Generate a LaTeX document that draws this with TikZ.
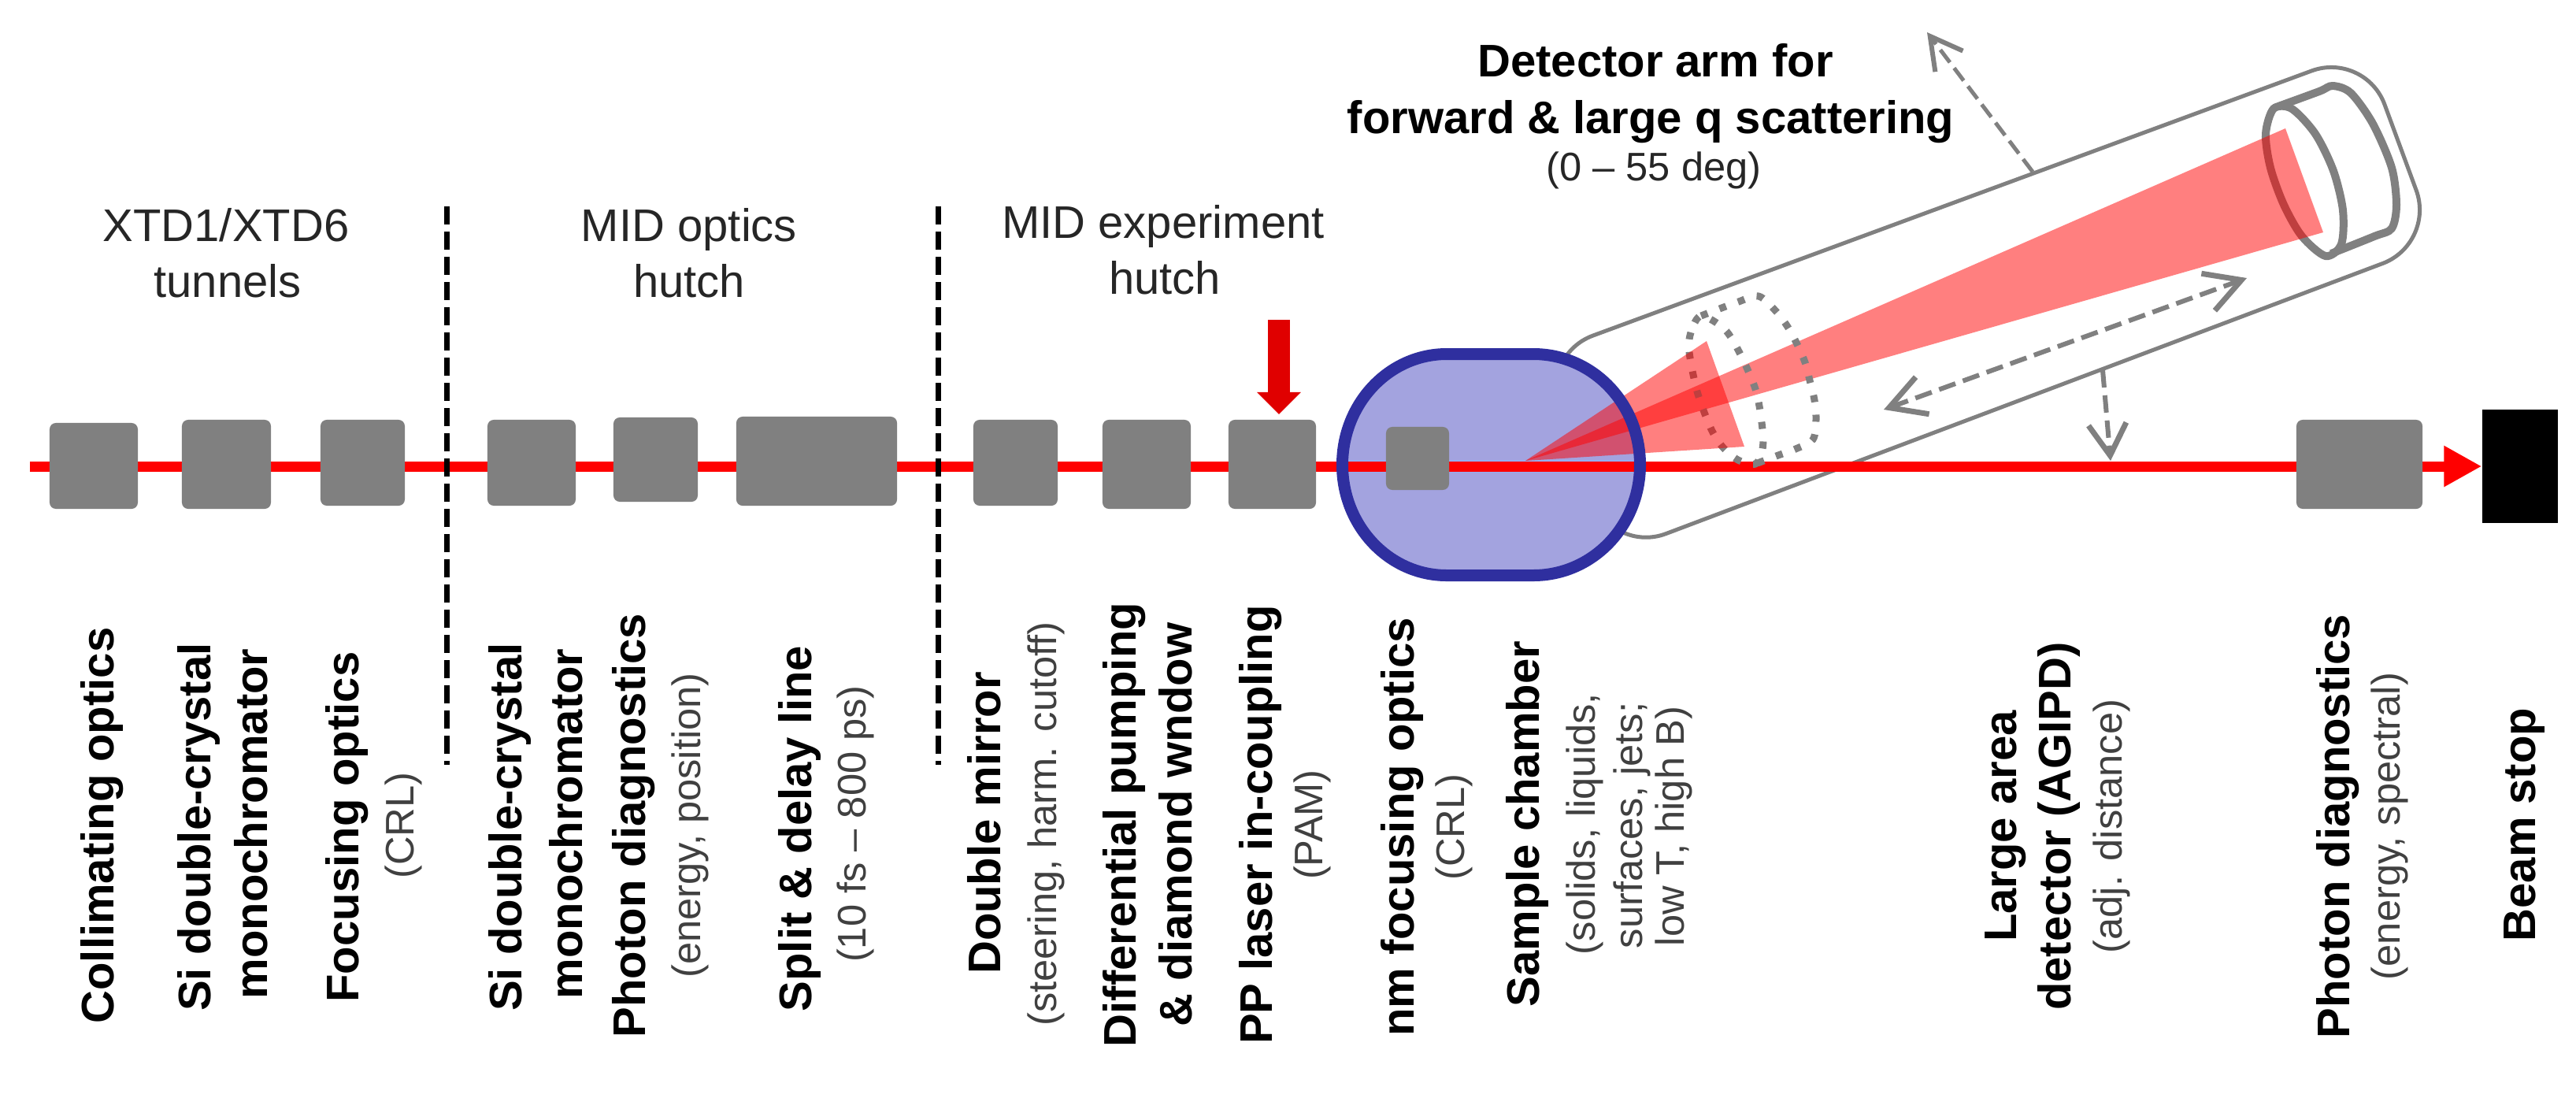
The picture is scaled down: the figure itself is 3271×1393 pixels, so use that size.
\documentclass[tikz,border=0pt]{standalone}
\usepackage{fontspec}
\setmainfont{Liberation Sans}
\usepackage{tikz}
\usetikzlibrary{arrows.meta}
\definecolor{optgray}{HTML}{808080}
\definecolor{chamberfill}{HTML}{A3A3DF}
\definecolor{chamberline}{HTML}{2F2F9F}
\definecolor{beamband}{HTML}{95AEF0}
\definecolor{laserred}{HTML}{E00000}
\tikzset{
  optic/.style={fill=optgray,rounded corners=0.08cm,inner sep=0},
  mainlab/.style={rotate=90,inner sep=0,text height=0.42cm,text depth=0cm,font=\fontsize{16.5}{20}\selectfont\bfseries},
  sublab/.style={rotate=90,inner sep=0,text height=0.36cm,text depth=0cm,text=black!75,font=\fontsize{14.4}{18}\selectfont},
  hutchlab/.style={anchor=base,inner sep=0,text=black!85,font=\fontsize{16.5}{20}\selectfont},
  armlab/.style={anchor=base,inner sep=0,font=\fontsize{16.5}{20}\selectfont\bfseries},
  hutchline/.style={line width=0.07cm,dash pattern=on 0.23cm off 0.09cm},
  armline/.style={optgray,line width=0.05cm},
  detline/.style={optgray,line width=0.1cm},
  dotline/.style={optgray,line width=0.09cm,dash pattern=on 0.09cm off 0.16cm},
  cone/.style={fill=red,fill opacity=0.5},
  moveline/.style={optgray,line width=0.06cm,dash pattern=on 0.22cm off 0.1cm,
    {Straight Barb[length=0.45cm,width=0.5cm,line width=0.07cm]}-{Straight Barb[length=0.45cm,width=0.5cm,line width=0.07cm]}}
}
\begin{document}
\begin{tikzpicture}[x=0.01cm,y=-0.01cm]
\useasboundingbox (0,0) rectangle (3271,1393);

% detector arm
\draw[armline,rounded corners=0.72cm] (1955,451) -- (3003,65) -- (3093,309) -- (2048,703) -- cycle;
\draw[detline] plot[smooth cycle] coordinates {(2887,138) (2877,170) (2883,213) (2900,260) (2923,300) (2953,325) (2973,310) (2975,267) (2963,217) (2940,170) (2910,138)};
\draw[detline] plot[smooth] coordinates {(2893,135) (2945,116) (2962,109) (2985,118) (3013,157) (3037,213) (3043,260) (3037,290) (3015,300) (2960,322)};

% sample chamber
\path[fill=chamberfill] (1837,449.5) -- (1947,449.5) .. controls (2022,449.5) and (2082.5,512) .. (2082.5,590) .. controls (2082.5,668) and (2022,730.5) .. (1947,730.5) -- (1837,730.5) .. controls (1764,730.5) and (1704.5,668) .. (1704.5,590) .. controls (1704.5,512) and (1764,449.5) .. (1837,449.5) -- cycle;
\draw[beamband,line width=0.16cm] (1710,592) -- (2076,592);

% beam
\node[fill=black,minimum width=0.96cm,minimum height=1.44cm,inner sep=0] (stop) at (3200,592) {};
\coordinate (beamstart) at (38,592);
\draw[red,line width=0.13cm,-{Triangle[length=0.48cm,width=0.49cm]}] (beamstart) -- (stop.west);

% scattering
\coordinate (sample) at (1937,585);
\path[cone] (sample) -- (2902,163) -- (2950,295) -- cycle;
\draw[dotline] plot[smooth cycle] coordinates {(2160,401) (2147,422) (2145,447) (2155,497) (2172,543) (2187,567) (2207,584) (2229,589) (2238,570) (2238,545) (2230,497) (2210,450) (2190,418)};
\draw[dotline] plot[smooth] coordinates {(2160,401) (2205,384) (2233,376) (2255,395) (2270,415) (2282,437) (2292,460) (2298,483) (2304,508) (2306,533) (2302,558) (2280,570) (2258,578) (2229,589)};
\path[cone] (sample) -- (2167,433) -- (2215,567) -- cycle;
\draw[chamberline,line width=0.15cm] (1837,449.5) -- (1947,449.5) .. controls (2022,449.5) and (2082.5,512) .. (2082.5,590) .. controls (2082.5,668) and (2022,730.5) .. (1947,730.5) -- (1837,730.5) .. controls (1764,730.5) and (1704.5,668) .. (1704.5,590) .. controls (1704.5,512) and (1764,449.5) .. (1837,449.5) -- cycle;

% optics on the beam
\node[optic,minimum width=1.12cm,minimum height=1.09cm] (collim) at (119,591.5) {};
\node[optic,minimum width=1.13cm,minimum height=1.13cm] (mono) at (287.5,589.5) {};
\node[optic,minimum width=1.07cm,minimum height=1.09cm] (focus) at (460.5,587.5) {};
\node[optic,minimum width=1.12cm,minimum height=1.09cm] (monob) at (675,587.5) {};
\node[optic,minimum width=1.07cm,minimum height=1.07cm] (diag) at (832.5,583.5) {};
\node[optic,minimum width=2.04cm,minimum height=1.13cm] (delay) at (1037,585.5) {};
\node[optic,minimum width=1.07cm,minimum height=1.09cm] (mirror) at (1289.5,587.5) {};
\node[optic,minimum width=1.12cm,minimum height=1.13cm] (pump) at (1456,589.5) {};
\node[optic,minimum width=1.11cm,minimum height=1.13cm] (pam) at (1615.5,589.5) {};
\node[optic,minimum width=0.8cm,minimum height=0.8cm] (nmfocus) at (1800,582) {};
\node[optic,minimum width=1.6cm,minimum height=1.13cm] (diagb) at (2996,589.5) {};

% laser arrow
\coordinate (laserin) at (1624,406);
\coordinate (laserout) at (1624,526);
\draw[laserred,line width=0.28cm,-{Triangle[length=0.28cm,width=0.54cm]}] (laserin) -- (laserout);

% hutch borders
\coordinate (bordera) at (567,262);
\coordinate (borderb) at (567,971);
\coordinate (borderc) at (1191,262);
\coordinate (borderd) at (1191,971);
\draw[hutchline] (bordera) -- (borderb);
\draw[hutchline] (borderc) -- (borderd);

% arm movement
\coordinate (swingfrom) at (2581,218);
\coordinate (swingto) at (2447,41);
\draw[optgray,line width=0.05cm,dash pattern=on 0.2cm off 0.09cm,-{Straight Barb[length=0.4cm,width=0.44cm,line width=0.06cm]}] (swingfrom) -- (swingto);
\coordinate (slidea) at (2392,520);
\coordinate (slideb) at (2853,353);
\draw[moveline] (slidea) -- (slideb);
\coordinate (heightfrom) at (2670,470);
\coordinate (heightto) at (2680,585);
\draw[optgray,line width=0.06cm,dash pattern=on 0.22cm off 0.1cm,-{Straight Barb[length=0.4cm,width=0.48cm,line width=0.07cm]}] (heightfrom) -- (heightto);

% top texts
\node[hutchlab] (tunnela) at (287,306) {XTD1/XTD6};
\node[hutchlab] (tunnelb) at (289,377) {tunnels};
\node[hutchlab] (opticsa) at (875,306) {MID optics};
\node[hutchlab] (opticsb) at (875,377) {hutch};
\node[hutchlab] (expa) at (1477,302) {MID experiment};
\node[hutchlab] (expb) at (1479,373) {hutch};
\node[armlab] (arma) at (2102,97) {Detector arm for};
\node[armlab] (armb) at (2096,169) {forward \& large q scattering};
\node[hutchlab,font=\fontsize{14.4}{18}\selectfont] (armc) at (2100,229) {(0 -- 55 deg)};

% labels below the beam
\node[mainlab] (lcollim) at (123,1048) {Collimating optics};
\node[mainlab] (lmono) at (246,1050) {Si double-crystal};
\node[mainlab] (lmonob) at (318,1046) {monochromator};
\node[mainlab] (lfocus) at (434,1050) {Focusing optics};
\node[sublab] (lfocusb) at (507,1048) {(CRL)};
\node[mainlab] (lsi) at (641,1050) {Si double-crystal};
\node[mainlab] (lsib) at (718,1046) {monochromator};
\node[mainlab] (ldiag) at (798,1048) {Photon diagnostics};
\node[sublab] (ldiagb) at (871,1048) {(energy, position)};
\node[mainlab] (lsplit) at (1009,1052) {Split \& delay line};
\node[sublab] (lsplitb) at (1081,1046) {(10 fs -- 800 ps)};
\node[mainlab] (lmirror) at (1249,1045) {Double mirror};
\node[sublab] (lmirrorb) at (1323,1046) {(steering, harm. cutoff)};
\node[mainlab] (lpump) at (1421,1047) {Differential pumping};
\node[mainlab] (lpumpb) at (1492,1047) {\& diamond wndow};
\node[mainlab] (lpam) at (1594,1047) {PP laser in-coupling};
\node[sublab] (lpamb) at (1661,1047) {(PAM)};
\node[mainlab] (lnm) at (1774,1050) {nm focusing optics};
\node[sublab] (lnmb) at (1841,1050) {(CRL)};
\node[mainlab] (lsample) at (1933,1046) {Sample chamber};
\node[sublab] (lsampleb) at (2007,1046) {(solids, liquids,};
\node[sublab] (lsamplec) at (2067,1048) {surfaces, jets;};
\node[sublab] (lsampled) at (2120,1049) {low T, high B)};
\node[mainlab] (lagipd) at (2539,1049) {Large area};
\node[mainlab] (lagipdb) at (2608,1049) {detector (AGIPD)};
\node[sublab] (lagipdc) at (2676,1049) {(adj. distance)};
\node[mainlab] (ldiagc) at (2962,1049) {Photon diagnostics};
\node[sublab] (ldiagd) at (3029,1049) {(energy, spectral)};
\node[mainlab] (lstop) at (3198,1047) {Beam stop};
\end{tikzpicture}
\end{document}
